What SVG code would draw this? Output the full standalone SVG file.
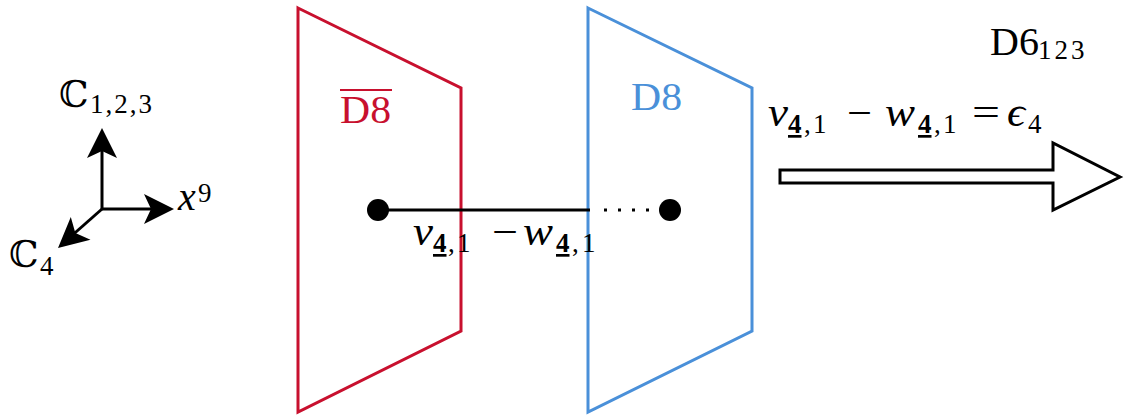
<svg xmlns="http://www.w3.org/2000/svg" width="1129" height="416" viewBox="0 0 1129 416">
<style>
text{font-family:"Liberation Serif","DejaVu Serif",serif;fill:#000}
.m{font-size:40px}
.s{font-size:27px}
.i{font-style:italic}
.b{font-weight:bold;text-decoration:underline}
.bb{font-family:"DejaVu Serif",serif;font-size:37px}
.ax{stroke:#000;stroke-width:3;fill:none}
.ah{fill:#000;stroke:none}
</style>
<rect width="1129" height="416" fill="#fff"/>
<g id="axes">
<line class="ax" x1="102" y1="209" x2="102" y2="145"/>
<line class="ax" x1="102" y1="209" x2="160" y2="209"/>
<line class="ax" x1="102" y1="209" x2="68" y2="239"/>
<polygon class="ah" points="102,128 117,158 102,151 87,158"/>
<polygon class="ah" points="174,209 144,224 151,209 144,194"/>
<polygon class="ah" transform="translate(58,248) rotate(139)" points="0,0 -30,15 -23,0 -30,-15"/>
<text x="59" y="107" class="bb">ℂ</text>
<text x="90" y="113" class="s" style="letter-spacing:2px">1,2,3</text>
<text x="178" y="210" class="m i">x</text>
<text x="198" y="202" class="s">9</text>
<text x="9" y="267" class="bb">ℂ</text>
<text x="40" y="275" class="s">4</text>
</g>
<g id="antiD8">
<polygon points="298,8 461,88 461,331 298,412" fill="none" stroke="#c8102e" stroke-width="3"/>
<line x1="340" y1="90" x2="392" y2="90" stroke="#c8102e" stroke-width="2"/>
<text x="340" y="123" class="m" style="fill:#c8102e" textLength="51" lengthAdjust="spacingAndGlyphs">D8</text>
</g>
<g id="D8">
<polygon points="588,8 752,88 752,331 588,412" fill="none" stroke="#4a90d9" stroke-width="3"/>
<text x="631" y="110" class="m" style="fill:#4a90d9" textLength="51" lengthAdjust="spacingAndGlyphs">D8</text>
</g>
<g id="connectors">
<line x1="378" y1="210" x2="590" y2="210" stroke="#000" stroke-width="3"/>
<line x1="604" y1="210" x2="660" y2="210" stroke="#000" stroke-width="3" stroke-dasharray="3,11"/>
</g>
<g id="strings">
<circle cx="378" cy="210" r="11" fill="#000"/>
<circle cx="670" cy="210" r="11" fill="#000"/>
<text class="m i" x="413" y="245" textLength="20" lengthAdjust="spacingAndGlyphs">v</text>
<text class="s" y="252"><tspan class="b" x="433">4</tspan><tspan x="448">,</tspan><tspan x="457">1</tspan></text>
<text class="m" x="492" y="245" textLength="26" lengthAdjust="spacingAndGlyphs">−</text>
<text class="m i" x="523" y="245" textLength="30" lengthAdjust="spacingAndGlyphs">w</text>
<text class="s" y="252"><tspan class="b" x="556">4</tspan><tspan x="572">,</tspan><tspan x="582">1</tspan></text>
</g>
<g id="D6">
<text x="990" y="55" class="m">D6</text>
<text x="1038" y="59" class="s" style="letter-spacing:3px">123</text>
</g>
<g id="motion">
<polygon points="780,170 1053,170 1053,143 1120,177 1053,210 1053,183 780,183" fill="#fff" stroke="#000" stroke-width="3" stroke-linejoin="miter"/>
<text class="m i" x="768" y="126" textLength="20" lengthAdjust="spacingAndGlyphs">v</text>
<text class="s" y="133"><tspan class="b" x="788">4</tspan><tspan x="804">,</tspan><tspan x="813">1</tspan></text>
<text class="m" x="847" y="126" textLength="25" lengthAdjust="spacingAndGlyphs">−</text>
<text class="m i" x="885" y="126" textLength="30" lengthAdjust="spacingAndGlyphs">w</text>
<text class="s" y="133"><tspan class="b" x="918">4</tspan><tspan x="934">,</tspan><tspan x="943">1</tspan></text>
<text class="m" x="972" y="126" textLength="28" lengthAdjust="spacingAndGlyphs">=</text>
<text class="m i" x="1007" y="126" textLength="18" lengthAdjust="spacingAndGlyphs">ϵ</text>
<text class="s" x="1028" y="133">4</text>
</g>
</svg>
